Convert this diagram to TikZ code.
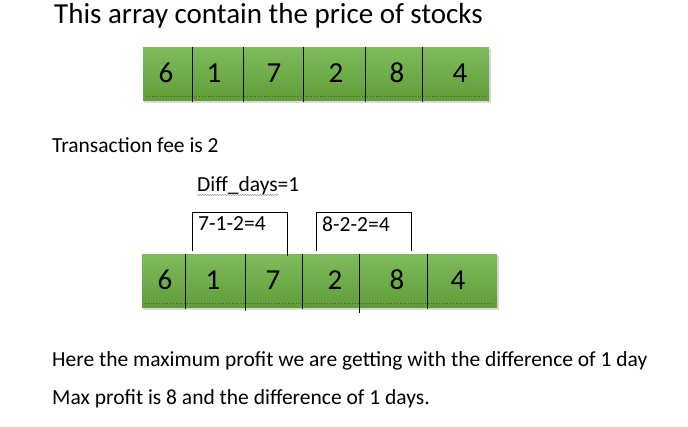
\documentclass[tikz,border=0pt]{standalone}
\usepackage{fontspec}
\setmainfont{Carlito}
\usetikzlibrary{positioning}
\usetikzlibrary{decorations.pathmorphing}
\definecolor{celltop}{RGB}{126,187,92}
\definecolor{cellbot}{RGB}{97,158,57}
\definecolor{celldot}{RGB}{62,100,44}
\tikzset{
    txt/.style={anchor=west, inner sep=0pt, font=\fontsize{21.5}{24}\selectfont},
    num/.style={inner sep=0pt, font=\fontsize{29}{29}\selectfont},
    bracket/.style={draw=black, line width=0.6pt},
}

\begin{document}
\begin{tikzpicture}[x=1pt, y=-1pt]
    \useasboundingbox (0,0) rectangle (688,426);

    \node[txt, font=\fontsize{29}{32}\selectfont] (title) at (54,16) {This array contain the price of stocks};

    % first array
    \fill[black!15] (144,49) rectangle (491,103);
    \shade[top color=celltop, bottom color=cellbot] (143,47) rectangle (489,100);
    \draw[celldot, dotted, line width=0.8pt] (146,96) -- (486,96);
    \foreach \x in {192,243,303,365,422} {
        \draw[black, line width=0.7pt] (\x,47) -- (\x,102);
    }
    \foreach \i/\x/\v in {1/166/6, 2/214/1, 3/274/7, 4/336/2, 5/397/8, 6/460/4} {
        \node[num] (t\i) at (\x,73) {\v};
    }

    \node[txt] (fee) at (52,145) {Transaction fee is 2};
    \node[txt] (diff) at (197,186) {Diff\_days=1};
    \draw[black!40, decorate, decoration={snake, amplitude=0.8pt, segment length=2.5pt}] (197,195) -- (279,195);

    % second array
    \fill[black!15] (143,256) rectangle (499,310);
    \shade[top color=celltop, bottom color=cellbot] (142,254) rectangle (497,307);
    \draw[celldot, dotted, line width=0.8pt] (145,303) -- (494,303);
    \foreach \x/\e in {185/309, 245/311, 302/309, 359/313, 427/309} {
        \draw[black, line width=0.7pt] (\x,254) -- (\x,\e);
    }
    \foreach \i/\x/\v in {1/165/6, 2/213/1, 3/273/7, 4/335/2, 5/397/8, 6/458/4} {
        \node[num] (b\i) at (\x,280) {\v};
    }

    % differences
    \coordinate (p1) at (192,251);
    \coordinate (p2) at (287,256);
    \coordinate (q1) at (316,251);
    \coordinate (q2) at (411,251);
    \draw[bracket] (p1) -- (192,212) -- (287,212) -- (p2);
    \draw[bracket] (q1) -- (316,212) -- (411,212) -- (q2);
    \node[txt] (d1) at (198,224) {7-1-2=4};
    \node[txt] (d2) at (322,224) {8-2-2=4};

    \node[txt] (res) at (52,361) {Here the maximum profit we are getting with the difference of 1 day};
    \node[txt] (max) at (52,399) {Max profit is 8 and the difference of 1 days.};
\end{tikzpicture}
\end{document}
